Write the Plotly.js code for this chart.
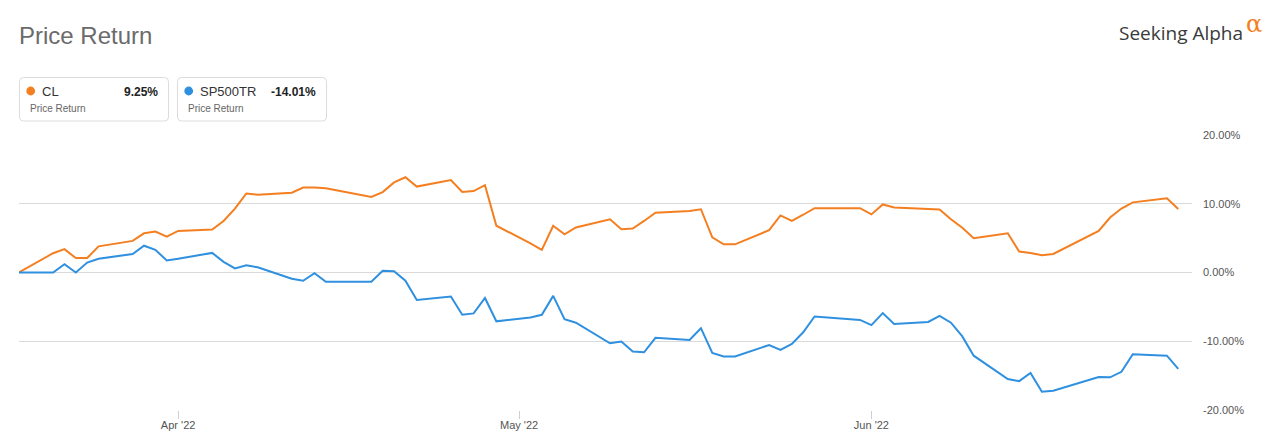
<!DOCTYPE html>
<html>
<head>
<meta charset="utf-8">
<script src="https://cdn.plot.ly/plotly-3.0.1.min.js"></script>
<style>
  html, body { margin: 0; padding: 0; background: #fff; }
  #plot { width: 1288px; height: 438px; }
</style>
</head>
<body>
<div id="plot"></div>
<script>
// trading days, Mar 18 2022 -> Jun 28 2022
var dates = [
  '2022-03-18','2022-03-21','2022-03-22','2022-03-23','2022-03-24','2022-03-25',
  '2022-03-28','2022-03-29','2022-03-30','2022-03-31','2022-04-01',
  '2022-04-04','2022-04-05','2022-04-06','2022-04-07','2022-04-08',
  '2022-04-11','2022-04-12','2022-04-13','2022-04-14',
  '2022-04-18','2022-04-19','2022-04-20','2022-04-21','2022-04-22',
  '2022-04-25','2022-04-26','2022-04-27','2022-04-28','2022-04-29',
  '2022-05-02','2022-05-03','2022-05-04','2022-05-05','2022-05-06',
  '2022-05-09','2022-05-10','2022-05-11','2022-05-12','2022-05-13',
  '2022-05-16','2022-05-17','2022-05-18','2022-05-19','2022-05-20',
  '2022-05-23','2022-05-24','2022-05-25','2022-05-26','2022-05-27',
  '2022-05-31','2022-06-01','2022-06-02','2022-06-03',
  '2022-06-06','2022-06-07','2022-06-08','2022-06-09','2022-06-10',
  '2022-06-13','2022-06-14','2022-06-15','2022-06-16','2022-06-17',
  '2022-06-21','2022-06-22','2022-06-23','2022-06-24',
  '2022-06-27','2022-06-28'
];

// price return, %
var clReturn = [
  0, 2.8, 3.4, 2.1, 2.1, 3.8,
  4.6, 5.7, 5.95, 5.2, 6.05,
  6.25, 7.5, 9.3, 11.5, 11.3,
  11.6, 12.35, 12.35, 12.25,
  11.0, 11.7, 13.1, 13.85, 12.5,
  13.45, 11.7, 11.85, 12.7, 6.8,
  4.25, 3.3, 6.8, 5.55, 6.55,
  7.75, 6.3, 6.4, 7.5, 8.7,
  8.95, 9.2, 5.1, 4.1, 4.1,
  6.15, 8.3, 7.5, 8.4, 9.35,
  9.35, 8.45, 9.9, 9.45,
  9.25, 9.15, 7.75, 6.5, 5.0,
  5.7, 3.05, 2.85, 2.5, 2.7,
  6.05, 8.0, 9.3, 10.2,
  10.8, 9.25
];

var spReturn = [
  0, 0, 1.2, 0, 1.45, 2.0,
  2.7, 3.9, 3.3, 1.75, 2.0,
  2.85, 1.55, 0.6, 1.05, 0.75,
  -0.9, -1.2, -0.1, -1.35,
  -1.35, 0.25, 0.2, -1.2, -4.0,
  -3.5, -6.15, -5.95, -3.7, -7.1,
  -6.55, -6.15, -3.4, -6.8, -7.3,
  -10.3, -10.05, -11.5, -11.6, -9.5,
  -9.8, -8.1, -11.7, -12.2, -12.2,
  -10.55, -11.25, -10.4, -8.7, -6.4,
  -6.9, -7.65, -5.9, -7.5,
  -7.2, -6.3, -7.3, -9.3, -12.1,
  -15.5, -15.8, -14.6, -17.35, -17.2,
  -15.2, -15.25, -14.45, -11.9,
  -12.1, -14.01
];

var names = ['CL', 'SP500TR'];
var colors = ['#f47f20', '#2f90e0'];
var yTicks = [-20, -10, 0, 10, 20];
var yTickText = yTicks.map(function(v){ return v.toFixed(2) + '%'; });

// page geometry
var W = 1288, H = 438;
var ML = 19, MR = 96, MT = 135, MB = 28;
var PW = W - ML - MR, PH = H - MT - MB;
function px(x){ return (x - ML) / PW; }
function py(y){ return (H - MB - y) / PH; }

function roundBox(x0, y0, x1, y1, r){
  var p = function(x, y){ return px(x) + ',' + py(y); };
  return 'M' + p(x0 + r, y0) + ' L' + p(x1 - r, y0) + ' Q' + p(x1, y0) + ' ' + p(x1, y0 + r) +
    ' L' + p(x1, y1 - r) + ' Q' + p(x1, y1) + ' ' + p(x1 - r, y1) +
    ' L' + p(x0 + r, y1) + ' Q' + p(x0, y1) + ' ' + p(x0, y1 - r) +
    ' L' + p(x0, y0 + r) + ' Q' + p(x0, y0) + ' ' + p(x0 + r, y0) + ' Z';
}

var FONT = 'Liberation Sans, Arial, sans-serif';

var data = [
  { x: dates, y: clReturn, name: names[0], type: 'scatter', mode: 'lines',
    line: { color: colors[0], width: 2 }, hoverinfo: 'skip' },
  { x: dates, y: spReturn, name: names[1], type: 'scatter', mode: 'lines',
    line: { color: colors[1], width: 2 }, hoverinfo: 'skip' }
];

var shapes = [];
var annotations = [];
var lastVals = [clReturn[clReturn.length - 1], spReturn[spReturn.length - 1]];
var boxLeft = [19.5, 177.5];
for (var i = 0; i < 2; i++) {
  var bx = boxLeft[i];
  shapes.push({ type: 'path', xref: 'paper', yref: 'paper',
    path: roundBox(bx, 77.5, bx + 149, 121, 4),
    line: { color: '#dcdcdc', width: 1 }, fillcolor: 'rgba(0,0,0,0)' });
  shapes.push({ type: 'circle', xref: 'paper', yref: 'paper',
    x0: px(bx + 6.8), x1: px(bx + 15.6), y0: py(86.6), y1: py(95.4),
    line: { width: 0 }, fillcolor: colors[i] });
  annotations.push({ xref: 'paper', yref: 'paper', x: px(bx + 20), y: py(91.5),
    xanchor: 'left', yanchor: 'middle', showarrow: false, text: names[i],
    font: { family: FONT, size: 13, color: '#333' } });
  annotations.push({ xref: 'paper', yref: 'paper', x: px(bx + 140.5), y: py(91.5),
    xanchor: 'right', yanchor: 'middle', showarrow: false,
    text: '<b>' + lastVals[i].toFixed(2) + '%</b>',
    font: { family: FONT, size: 12, color: '#222' } });
  annotations.push({ xref: 'paper', yref: 'paper', x: px(bx + 8.5), y: py(108.5),
    xanchor: 'left', yanchor: 'middle', showarrow: false, text: 'Price Return',
    font: { family: FONT, size: 10, color: '#666' } });
}

// logo
annotations.push({ xref: 'paper', yref: 'paper', x: px(1245), y: py(33),
  xanchor: 'right', yanchor: 'middle', showarrow: false, text: 'Seeking Alpha',
  font: { family: 'Open Sans, Lato, sans-serif', size: 19, color: '#3a3a3a' } });
annotations.push({ xref: 'paper', yref: 'paper', x: px(1244), y: py(24),
  xanchor: 'left', yanchor: 'middle', showarrow: false, text: '\u03b1',
  font: { family: 'DejaVu Serif, serif', size: 24, color: colors[0] } });

var layout = {
  width: W, height: H,
  margin: { l: ML, r: MR, t: MT, b: MB, pad: 0 },
  paper_bgcolor: '#fff', plot_bgcolor: '#fff',
  showlegend: false,
  title: { text: 'Price Return', xref: 'container', yref: 'container',
    x: 19 / W, xanchor: 'left', y: 1 - 36 / H, yanchor: 'middle',
    font: { family: FONT, size: 24, color: '#6b6b6b' } },
  xaxis: {
    type: 'date',
    range: ['2022-03-18', '2022-06-29 05:00'],
    tick0: '2022-04-01', dtick: 'M1', tickformat: "%b '%y",
    ticks: 'outside', ticklen: 8, tickcolor: '#cfcfcf', tickwidth: 1,
    ticklabelstandoff: -3,
    showgrid: false, zeroline: false, showline: false,
    tickfont: { family: FONT, size: 11, color: '#555' }
  },
  yaxis: {
    side: 'right',
    range: [-20, 20],
    tickmode: 'array', tickvals: yTicks, ticktext: yTickText,
    showgrid: true, gridcolor: '#dadada', gridwidth: 1,
    zeroline: false, showline: false, ticks: '',
    ticklabelstandoff: 10,
    tickfont: { family: FONT, size: 11, color: '#555' }
  },
  shapes: shapes,
  annotations: annotations
};

Plotly.newPlot('plot', data, layout, { displayModeBar: false, staticPlot: true });
</script>
</body>
</html>
